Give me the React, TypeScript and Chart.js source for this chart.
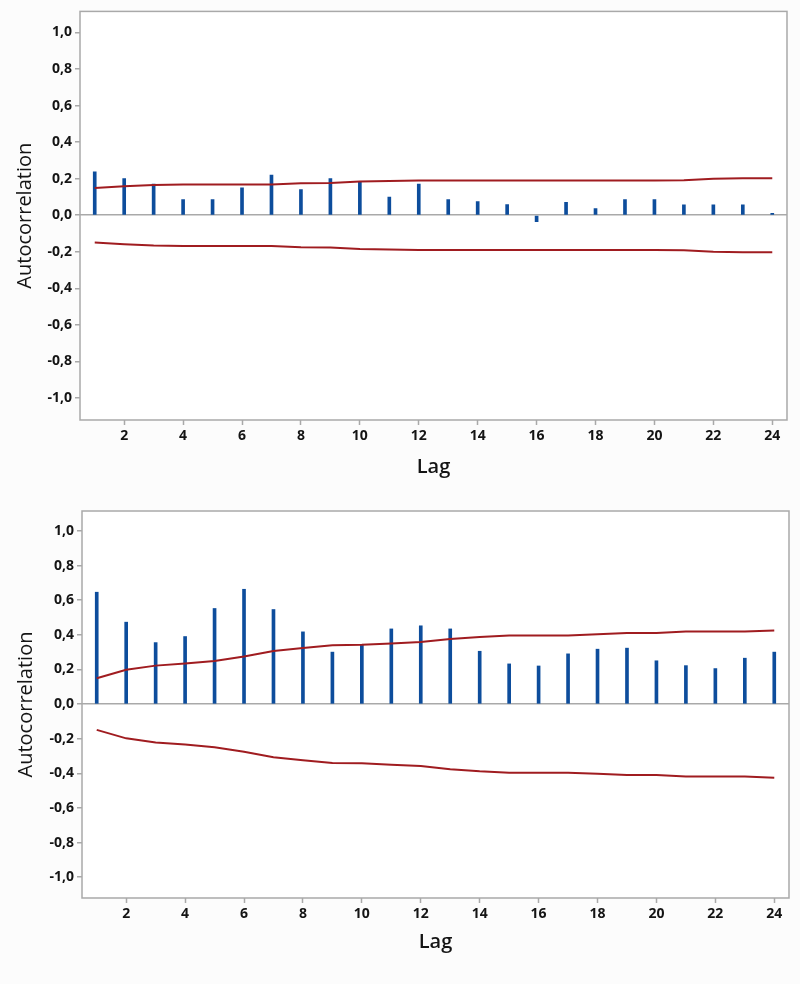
import React, { useEffect, useRef } from 'react';
import { Chart, registerables } from 'chart.js';
Chart.register(...registerables);

const lags = [1, 2, 3, 4, 5, 6, 7, 8, 9, 10, 11, 12, 13, 14, 15, 16, 17, 18, 19, 20, 21, 22, 23, 24];

const acfTop = [0.237, 0.2, 0.17, 0.085, 0.085, 0.15, 0.22, 0.14, 0.2, 0.185, 0.1, 0.17, 0.085, 0.075, 0.058, -0.035, 0.07, 0.037, 0.085, 0.085, 0.057, 0.057, 0.057, 0.01];
const limitTop = [0.149, 0.158, 0.166, 0.168, 0.168, 0.168, 0.168, 0.175, 0.177, 0.184, 0.187, 0.19, 0.19, 0.19, 0.19, 0.19, 0.19, 0.19, 0.19, 0.19, 0.191, 0.2, 0.202, 0.202];

const acfBottom = [0.646, 0.473, 0.355, 0.39, 0.552, 0.663, 0.546, 0.417, 0.3, 0.34, 0.434, 0.452, 0.434, 0.305, 0.232, 0.22, 0.29, 0.317, 0.323, 0.25, 0.222, 0.205, 0.265, 0.3];
const limitBottom = [0.149, 0.198, 0.222, 0.234, 0.249, 0.275, 0.307, 0.324, 0.34, 0.342, 0.35, 0.358, 0.376, 0.388, 0.396, 0.396, 0.396, 0.403, 0.41, 0.41, 0.419, 0.419, 0.419, 0.425];

const xTicks = [2, 4, 6, 8, 10, 12, 14, 16, 18, 20, 22, 24];
const yTicks = [-1, -0.8, -0.6, -0.4, -0.2, 0, 0.2, 0.4, 0.6, 0.8, 1];
const xRange = [0.5, 24.5];
const yRange = [-1.12, 1.115];

const xTitle = 'Lag';
const yTitle = 'Autocorrelation';

const FONT = "'Open Sans', 'DejaVu Sans', sans-serif";
const AXIS_GREY = '#a9a9a9';
const BAR_BLUE = '#0d4d9c';
const LIMIT_RED = '#a01c20';

const boxPlugin = {
  id: 'plotBox',
  beforeDraw(chart: any) {
    const { ctx, chartArea } = chart;
    const { left, top, right, bottom } = chartArea;
    ctx.save();
    ctx.fillStyle = '#fcfcfc';
    ctx.fillRect(0, 0, chart.width, chart.height);
    ctx.fillStyle = '#ffffff';
    ctx.fillRect(left, top, right - left, bottom - top);
    ctx.restore();
  },
  afterDraw(chart: any) {
    const { ctx, chartArea } = chart;
    const { left, top, right, bottom } = chartArea;
    ctx.save();
    ctx.strokeStyle = AXIS_GREY;
    ctx.lineWidth = 1.5;
    ctx.strokeRect(left, top, right - left, bottom - top);
    ctx.restore();
  },
};

interface AcfProps {
  acf: number[];
  limit: number[];
  width: number;
  height: number;
  padTop: number;
  padRight: number;
  axisW: number;
  axisH: number;
  yTitlePad: number;
  xTitlePad: number;
}

function AcfChart(p: AcfProps) {
  const ref = useRef<HTMLCanvasElement | null>(null);
  useEffect(() => {
    if (!ref.current) return;
    const chart = new Chart(ref.current, {
      type: 'bar',
      data: {
        datasets: [
          {
            type: 'line',
            data: lags.map((x, i) => ({ x, y: p.limit[i] })),
            borderColor: LIMIT_RED,
            borderWidth: 2,
            pointRadius: 0,
            tension: 0,
            fill: false,
          } as any,
          {
            type: 'line',
            data: lags.map((x, i) => ({ x, y: -p.limit[i] })),
            borderColor: LIMIT_RED,
            borderWidth: 2,
            pointRadius: 0,
            tension: 0,
            fill: false,
          } as any,
          {
            type: 'bar',
            data: lags.map((x, i) => ({ x, y: p.acf[i] })),
            backgroundColor: BAR_BLUE,
            borderWidth: 0,
            barThickness: 3,
          } as any,
        ],
      },
      options: {
        responsive: false,
        animation: false,
        events: [],
        layout: { padding: { top: p.padTop, right: p.padRight, left: 0, bottom: 0 } },
        plugins: { legend: { display: false }, tooltip: { enabled: false } },
        scales: {
          x: {
            type: 'linear',
            min: xRange[0],
            max: xRange[1],
            offset: false,
            afterFit: (s: any) => { s.height = p.axisH; },
            afterBuildTicks: (s: any) => { s.ticks = xTicks.map((v) => ({ value: v })); },
            grid: {
              display: true,
              drawOnChartArea: false,
              offset: false,
              tickLength: 5,
              tickColor: AXIS_GREY,
              tickWidth: 1.5,
            },
            border: { display: false },
            ticks: {
              padding: 3,
              color: '#141414',
              font: { family: FONT, size: 14, weight: 'bold' },
              maxRotation: 0,
              autoSkip: false,
              callback: (v: any) => String(v),
            },
            title: {
              display: true,
              text: xTitle,
              color: '#141414',
              font: { family: FONT, size: 20, weight: '600' },
              padding: { top: 0, bottom: p.xTitlePad },
            },
          },
          y: {
            type: 'linear',
            min: yRange[0],
            max: yRange[1],
            afterFit: (s: any) => { s.width = p.axisW; },
            afterBuildTicks: (s: any) => { s.ticks = yTicks.map((v) => ({ value: v })); },
            grid: {
              display: true,
              drawOnChartArea: true,
              color: (c: any) => (c.tick && Math.abs(c.tick.value) < 1e-9 ? AXIS_GREY : 'rgba(0,0,0,0)'),
              lineWidth: 1.5,
              tickLength: 5,
              tickColor: AXIS_GREY,
              tickWidth: 1.5,
            },
            border: { display: false },
            ticks: {
              padding: 3,
              color: '#141414',
              font: { family: FONT, size: 14, weight: 'bold' },
              autoSkip: false,
              callback: (v: any) => Number(v).toFixed(1).replace('.', ','),
            },
            title: {
              display: true,
              text: yTitle,
              color: '#141414',
              font: { family: FONT, size: 20, weight: 'normal' },
              padding: { top: p.yTitlePad, bottom: 0 },
            },
          },
        },
      } as any,
      plugins: [boxPlugin],
    });
    return () => chart.destroy();
  }, []);
  return <canvas ref={ref} width={p.width} height={p.height} style={{ display: 'block', width: p.width, height: p.height }} />;
}

export default function App() {
  return (
    <div style={{ position: 'absolute', left: 0, top: 0, width: 800, height: 984, background: '#fcfcfc' }}>
      <div style={{ position: 'absolute', left: 0, top: 0 }}>
        <AcfChart acf={acfTop} limit={limitTop} width={800} height={490} padTop={10} padRight={13} axisW={80} axisH={70} yTitlePad={13} xTitlePad={11} />
      </div>
      <div style={{ position: 'absolute', left: 0, top: 490 }}>
        <AcfChart acf={acfBottom} limit={limitBottom} width={800} height={494} padTop={21} padRight={11} axisW={82} axisH={86} yTitlePad={14} xTitlePad={30} />
      </div>
    </div>
  );
}
